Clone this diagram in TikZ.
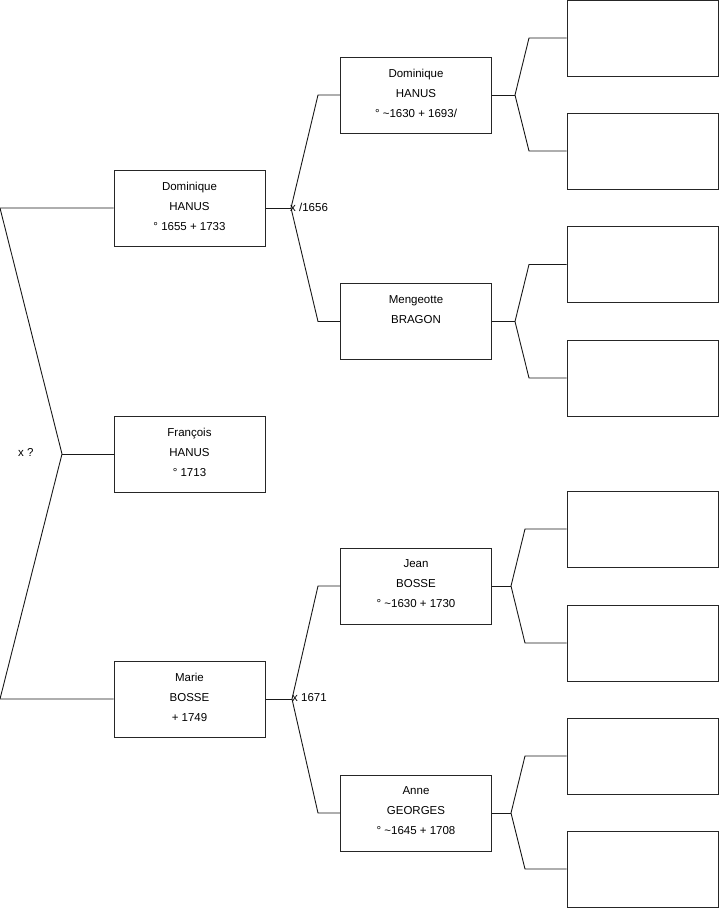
\documentclass[tikz,border=0pt]{standalone}
\usepackage{fontspec}
\setmainfont{Liberation Sans}
\usetikzlibrary{positioning}

\begin{document}
\begin{tikzpicture}[
        x=1pt, y=-1pt,
        % Style des cases de personnes
        personBox/.style={
            draw=black!85,
            line width=1pt,
            minimum width=151pt,
            minimum height=76pt,
            align=center,
            inner sep=0pt,
            text depth=4pt,
            font=\fontsize{11.5}{20}\selectfont
        },
        % Style des cases vides
        emptyBox/.style={
            draw=black!85,
            line width=1pt,
            minimum width=151pt,
            minimum height=76pt
        },
        % Style des traits
        link/.style={line width=0.9pt, black!90},
        % Style des mentions de mariage
        union/.style={font=\fontsize{11.5}{12}\selectfont, inner sep=0pt}
    ]

    \useasboundingbox (0,0) rectangle (719,908);

    % Génération 1
    \node[personBox] (Dom1) at (189.5,208) {Dominique\\HANUS\\° 1655 + 1733};
    \node[personBox] (Fra) at (189.5,454) {François\\HANUS\\° 1713};
    \node[personBox] (Mar) at (189.5,699) {Marie\\BOSSE\\+ 1749};

    % Génération 2
    \node[personBox] (Dom2) at (416,95) {Dominique\\HANUS\\° \string~1630 + 1693/};
    \node[personBox] (Men) at (416,321.5) {Mengeotte\\BRAGON\\};
    \node[personBox] (Jea) at (416,586) {Jean\\BOSSE\\° \string~1630 + 1730};
    \node[personBox] (Ann) at (416,813) {Anne\\GEORGES\\° \string~1645 + 1708};

    % Génération 3 (cases vides)
    \node[emptyBox] (Anc1) at (642.5,38) {};
    \node[emptyBox] (Anc2) at (642.5,151) {};
    \node[emptyBox] (Anc3) at (642.5,264.5) {};
    \node[emptyBox] (Anc4) at (642.5,378) {};
    \node[emptyBox] (Anc5) at (642.5,529) {};
    \node[emptyBox] (Anc6) at (642.5,643) {};
    \node[emptyBox] (Anc7) at (642.5,756) {};
    \node[emptyBox] (Anc8) at (642.5,869) {};

    % Points de fourche
    \coordinate (lTop) at (0,208);
    \coordinate (lMid) at (62,454);
    \coordinate (lBot) at (0,699);
    \coordinate (fDom) at (291,208);
    \coordinate (fDomA) at (318,95);
    \coordinate (fDomB) at (318,321.5);
    \coordinate (fMar) at (292,699);
    \coordinate (fMarA) at (318,586);
    \coordinate (fMarB) at (318,813);
    \coordinate (gDom) at (515,95);
    \coordinate (gDomA) at (529,38);
    \coordinate (gDomB) at (529,151);
    \coordinate (gMen) at (515,321.5);
    \coordinate (gMenA) at (529,264.5);
    \coordinate (gMenB) at (529,378);
    \coordinate (gJea) at (511,586);
    \coordinate (gJeaA) at (525,529);
    \coordinate (gJeaB) at (525,643);
    \coordinate (gAnn) at (511,813);
    \coordinate (gAnnA) at (525,756);
    \coordinate (gAnnB) at (525,869);

    % Fratrie
    \draw[link] (Dom1.west) -- (lTop) -- (lMid) -- (lBot) -- (Mar.west);
    \draw[link] (lMid) -- (Fra.west);
    \node[union, anchor=west] (uFra) at (18,452) {x ?};

    % Parents de Dominique
    \draw[link] (Dom1.east) -- (fDom);
    \draw[link] (fDom) -- (fDomA) -- (Dom2.west);
    \draw[link] (fDom) -- (fDomB) -- (Men.west);
    \node[union, anchor=west] (uDom) at (290,207) {x /1656};

    % Parents de Marie
    \draw[link] (Mar.east) -- (fMar);
    \draw[link] (fMar) -- (fMarA) -- (Jea.west);
    \draw[link] (fMar) -- (fMarB) -- (Ann.west);
    \node[union, anchor=west] (uMar) at (292,698) {x 1671};

    % Génération 3
    \draw[link] (Dom2.east) -- (gDom);
    \draw[link] (gDom) -- (gDomA) -- (Anc1.west);
    \draw[link] (gDom) -- (gDomB) -- (Anc2.west);
    \draw[link] (Men.east) -- (gMen);
    \draw[link] (gMen) -- (gMenA) -- (Anc3.west);
    \draw[link] (gMen) -- (gMenB) -- (Anc4.west);
    \draw[link] (Jea.east) -- (gJea);
    \draw[link] (gJea) -- (gJeaA) -- (Anc5.west);
    \draw[link] (gJea) -- (gJeaB) -- (Anc6.west);
    \draw[link] (Ann.east) -- (gAnn);
    \draw[link] (gAnn) -- (gAnnA) -- (Anc7.west);
    \draw[link] (gAnn) -- (gAnnB) -- (Anc8.west);

\end{tikzpicture}
\end{document}
